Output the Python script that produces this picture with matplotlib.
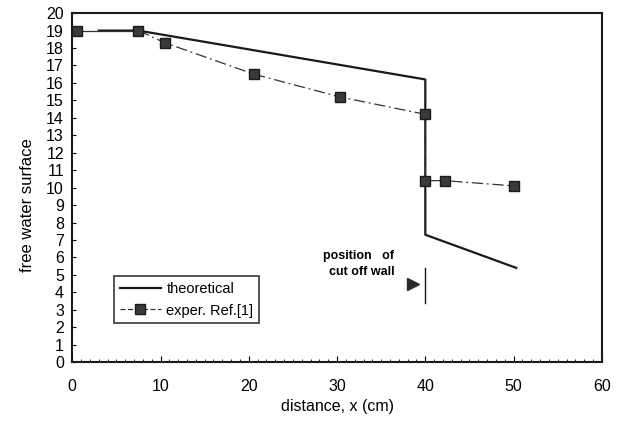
import numpy as np
import matplotlib.pyplot as plt
from matplotlib.ticker import MultipleLocator

plt.rcParams['font.family'] = ['Liberation Sans', 'DejaVu Sans']

# theoretical free water surface
theo_x = [3.0, 7.5, 40.0, 40.0, 50.3]
theo_y = [19.0, 19.0, 16.2, 7.3, 5.4]

# experimental, Ref.[1]
exp_x = [0.5, 7.5, 10.5, 20.6, 30.3, 40.0, 40.0, 42.2, 50.0]
exp_y = [19.0, 19.0, 18.3, 16.5, 15.2, 14.2, 10.4, 10.4, 10.1]

wall_x = 40.0
wall_y = [3.4, 5.4]
arrow_x, arrow_y = 38.6, 4.5

fig = plt.figure(figsize=(6.23, 4.24), dpi=100)
ax = fig.add_axes([0.116, 0.146, 0.850, 0.823])

ax.plot(theo_x, theo_y, color='#1a1a1a', lw=1.6, label='theoretical')
ax.plot(exp_x[:2], exp_y[:2], color='#333333', lw=0.9)
ax.plot(exp_x[1:], exp_y[1:], color='#333333', lw=0.9,
        linestyle=(0, (9, 3, 1.5, 3)))
ax.plot([], [], color='#333333', lw=0.9, linestyle=(0, (4, 2)),
        marker='s', markersize=7, markerfacecolor='#3a3a3a',
        markeredgecolor='#1a1a1a', label='exper. Ref.[1]')
ax.plot(exp_x, exp_y, linestyle='none', marker='s', markersize=7,
        markerfacecolor='#3a3a3a', markeredgecolor='#1a1a1a')

# position of cut off wall
ax.plot([wall_x, wall_x], wall_y, color='#1a1a1a', lw=1.0)
ax.plot(arrow_x, arrow_y, marker='>', markersize=8, color='#2a2a2a')
ax.text(36.5, 5.6, 'position   of\ncut off wall', ha='right', va='center',
        fontsize=9, fontweight='bold', linespacing=1.45)

ax.set_xlim(0, 60)
ax.set_ylim(0, 20)
ax.xaxis.set_major_locator(MultipleLocator(10))
ax.xaxis.set_minor_locator(MultipleLocator(1))
ax.yaxis.set_major_locator(MultipleLocator(1))
ax.tick_params(axis='both', which='both', direction='in', top=False, right=False)
ax.tick_params(axis='x', which='major', length=4, pad=12, labelsize=11.5)
ax.tick_params(axis='x', which='minor', length=2)
ax.tick_params(axis='y', which='major', length=3, pad=6, labelsize=11.5)
for sp in ax.spines.values():
    sp.set_linewidth(1.5)
    sp.set_color('#1a1a1a')

ax.set_xlabel('distance, x (cm)', fontsize=11.5, labelpad=4)
ax.set_ylabel('free water surface', fontsize=12)
ax.yaxis.set_label_coords(-0.07, 0.45)

leg = ax.legend(loc='lower left', bbox_to_anchor=(0.065, 0.09), fontsize=10.5,
                frameon=True, fancybox=False, handlelength=2.8,
                borderpad=0.4, labelspacing=0.5, handletextpad=0.4)
leg.get_frame().set_edgecolor('#1a1a1a')
leg.get_frame().set_linewidth(1.3)

fig.savefig('out.png', dpi=100)
